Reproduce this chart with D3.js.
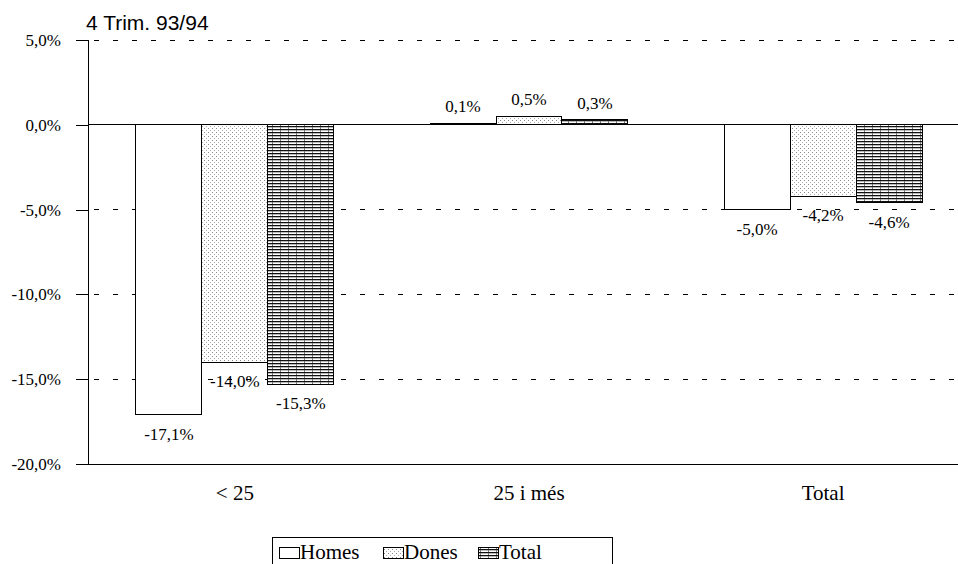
<!DOCTYPE html>
<html><head><meta charset="utf-8">
<script src="https://cdn.jsdelivr.net/npm/d3@7"></script>
<style>body{margin:0;background:#fff}svg{display:block}</style>
</head><body>
<svg id="c" width="958" height="564"></svg>
<script>
const categories = ["< 25", "25 i més", "Total"];
const seriesNames = ["Homes", "Dones", "Total"];
const homes = [-17.1, 0.1, -5.0];
const dones = [-14.0, 0.5, -4.2];
const total = [-15.3, 0.3, -4.6];
const yTicks = [5, 0, -5, -10, -15, -20];
const title = "4 Trim. 93/94";

(function () {
const series = [homes, dones, total];
const svg = d3.select("#c");
const fmt = v => d3.format(".1f")(v).replace(".", ",").replace("−", "-") + "%";
const SERIF = "'Liberation Serif', 'Times New Roman', serif";

const defs = svg.append("defs");
const pd = defs.append("pattern").attr("id", "dots").attr("patternUnits", "userSpaceOnUse").attr("width", 4).attr("height", 4);
pd.append("rect").attr("width", 4).attr("height", 4).attr("fill", "#fff");
pd.append("rect").attr("x", 0).attr("y", 0).attr("width", 1).attr("height", 1).attr("fill", "#888");
pd.append("rect").attr("x", 2).attr("y", 2).attr("width", 1).attr("height", 1).attr("fill", "#aaa");
const pl = defs.append("pattern").attr("id", "lines").attr("patternUnits", "userSpaceOnUse").attr("width", 8).attr("height", 3);
pl.append("rect").attr("width", 8).attr("height", 3).attr("fill", "#fff");
pl.append("rect").attr("x", 0).attr("y", 0).attr("width", 8).attr("height", 1).attr("fill", "#111");
pl.append("rect").attr("x", 0).attr("y", 1).attr("width", 8).attr("height", 1).attr("fill", "#bbb");
pl.append("rect").attr("x", 0).attr("y", 1).attr("width", 1).attr("height", 2).attr("fill", "#777");
const fills = ["#fff", "url(#dots)", "url(#lines)"];

const mLeft = 88, mRight = 970, mTop = 40, mBottom = 464;
const y = d3.scaleLinear().domain([-20, 5]).range([mBottom, mTop]);
const x0 = d3.scaleBand().domain(categories).range([mLeft, mRight]).paddingInner(0.327).paddingOuter(0.163);
const x1 = d3.scaleBand().domain(d3.range(3)).range([0, x0.bandwidth()]);

// gridlines
svg.append("g").selectAll("line").data(yTicks.filter(t => t !== 0 && t !== -20)).join("line")
  .attr("x1", mLeft).attr("x2", 958).attr("y1", d => y(d)).attr("y2", d => y(d))
  .attr("stroke", "#000").attr("stroke-width", 1).attr("stroke-dasharray", "5,14").attr("stroke-dashoffset", -6)
  .attr("shape-rendering", "crispEdges");

// zero line
svg.append("line").attr("x1", mLeft).attr("x2", 958).attr("y1", y(0)).attr("y2", y(0))
  .attr("stroke", "#000").attr("shape-rendering", "crispEdges");

// bars
categories.forEach((c, ci) => {
  series.forEach((s, si) => {
    const v = s[ci];
    svg.append("rect")
      .attr("x", x0(c) + x1(si)).attr("width", x1.bandwidth())
      .attr("y", y(Math.max(0, v))).attr("height", Math.abs(y(v) - y(0)))
      .attr("fill", fills[si]).attr("stroke", "#000").attr("stroke-width", 1).attr("shape-rendering", "crispEdges");
  });
});
categories.forEach((c, ci) => {
  series.forEach((s, si) => {
    const v = s[ci];
    svg.append("text")
      .attr("x", x0(c) + x1(si) + x1.bandwidth() / 2)
      .attr("y", v >= 0 ? y(v) - 11 : y(v) + 25)
      .attr("text-anchor", "middle")
      .style("font-family", SERIF).style("font-size", "17px")
      .text(fmt(v));
  });
});

// y axis
const ya = svg.append("g").attr("transform", `translate(${mLeft},0)`)
  .call(d3.axisLeft(y).tickValues(yTicks).tickSize(12).tickPadding(15).tickFormat(fmt));
ya.selectAll("text").style("font-family", SERIF).style("font-size", "17px").attr("fill", "#000");
ya.selectAll("line,path").attr("stroke", "#000").attr("shape-rendering", "crispEdges");
ya.select(".domain").attr("d", `M0,${mTop}V${mBottom}`);

// x axis
const xa = svg.append("g").attr("transform", `translate(0,${mBottom})`)
  .call(d3.axisBottom(x0).tickSize(0));
xa.select(".domain").attr("d", `M${mLeft},0H958`).attr("stroke", "#000").attr("shape-rendering", "crispEdges");
xa.selectAll("text").attr("y", 36).attr("dy", null)
  .style("font-family", SERIF).style("font-size", "21px").attr("fill", "#000");

// title
svg.append("text").attr("x", 86).attr("y", 30)
  .style("font-family", "'Liberation Sans', Arial, sans-serif").style("font-size", "21px").text(title);

// legend
const lg = svg.append("g").attr("transform", "translate(272,537)");
lg.append("rect").attr("x", 0.5).attr("y", 0.5).attr("width", 340).attr("height", 32).attr("fill", "#fff").attr("stroke", "#000").attr("shape-rendering", "crispEdges");
const lx = [7, 111, 206];
seriesNames.forEach((n, i) => {
  lg.append("rect").attr("x", lx[i] + 0.5).attr("y", 10.5).attr("width", 20).attr("height", 11)
    .attr("fill", fills[i]).attr("stroke", "#000").attr("shape-rendering", "crispEdges");
  lg.append("text").attr("x", lx[i] + 21).attr("y", 22)
    .style("font-family", SERIF).style("font-size", "21px").text(n);
});
})();
</script>
</body></html>
